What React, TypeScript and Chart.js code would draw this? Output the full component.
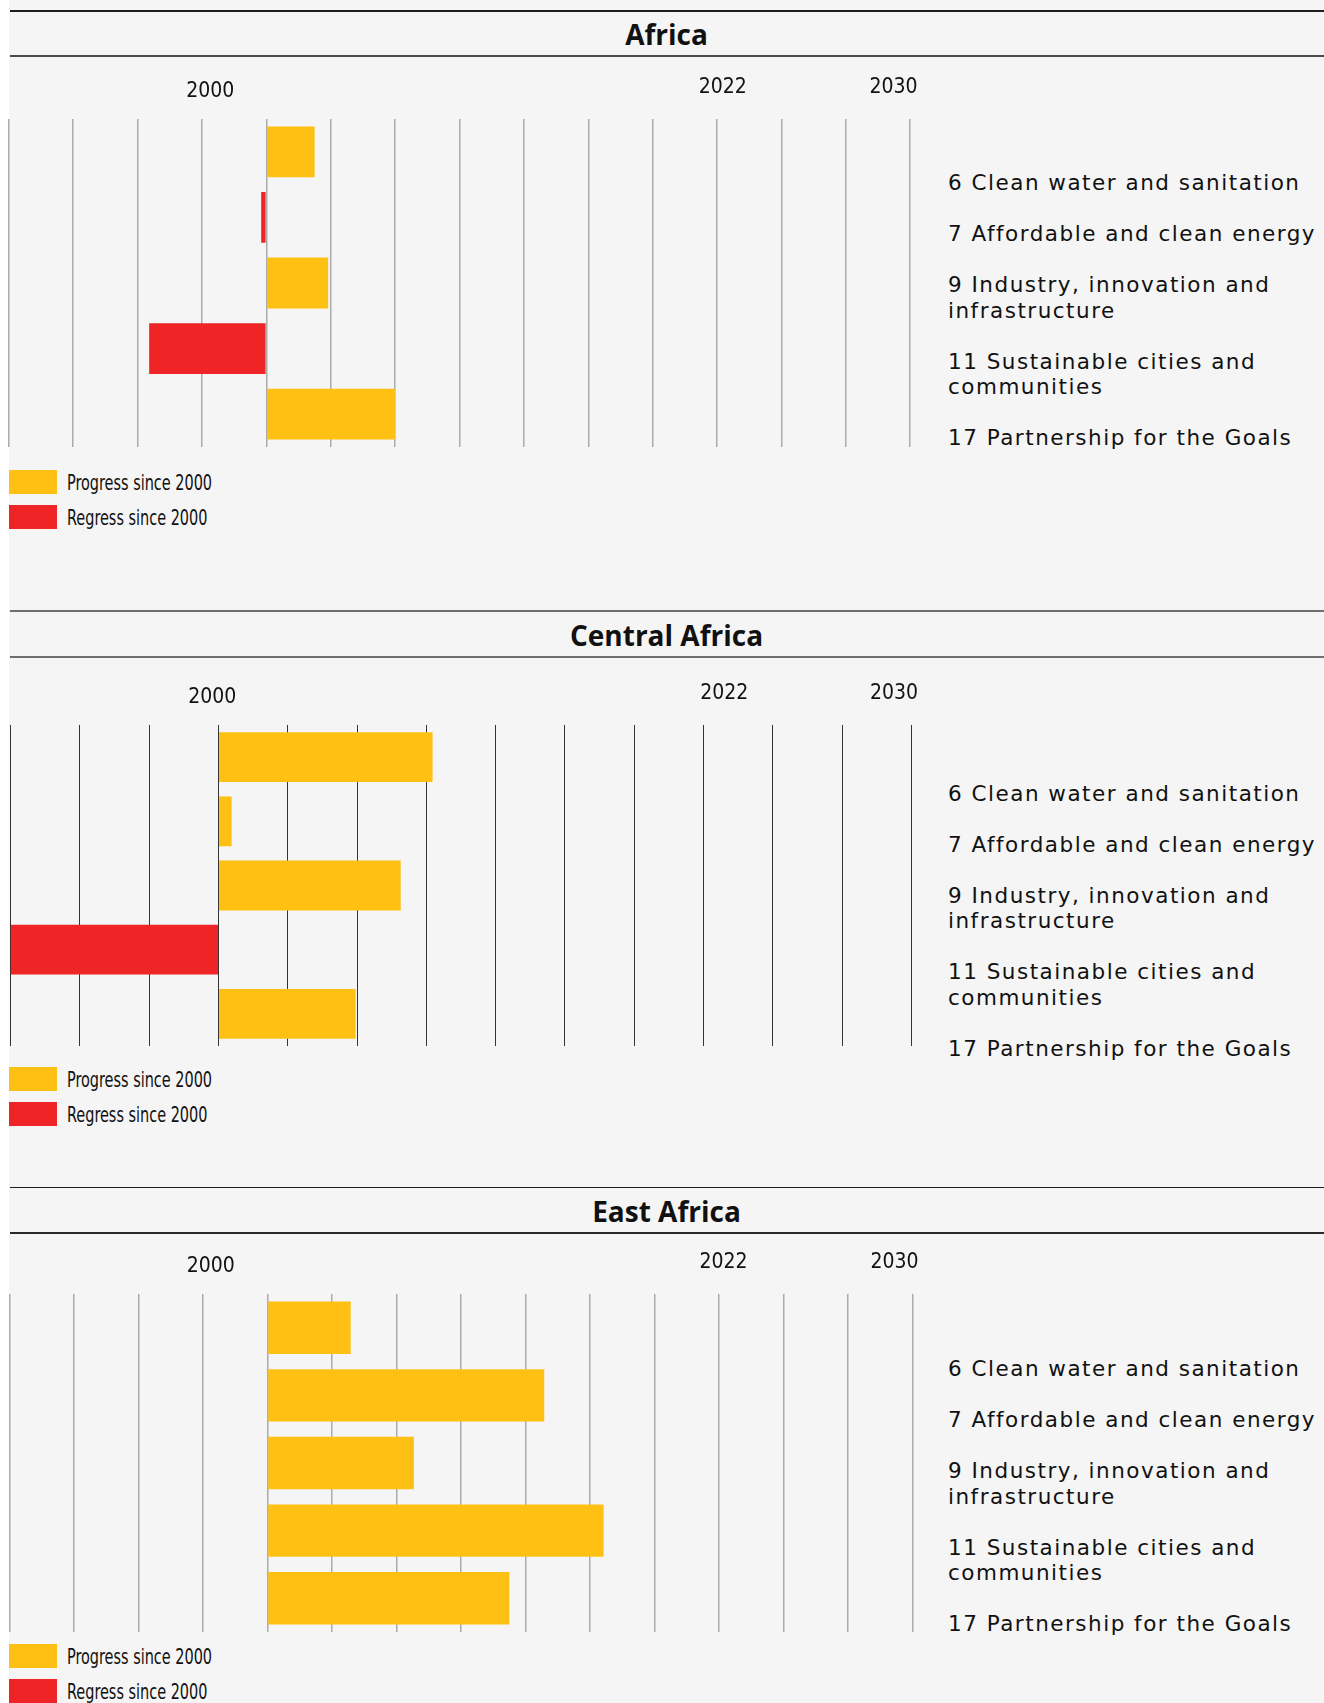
import React, { useEffect, useRef } from "react";
import { Chart, registerables } from "chart.js";

Chart.register(...registerables);

// ---------------- data ----------------
const goalLabels: (string | string[])[] = [
  "6 Clean water and sanitation",
  "7 Affordable and clean energy",
  ["9 Industry, innovation and", "infrastructure"],
  ["11 Sustainable cities and", "communities"],
  "17 Partnership for the Goals",
];

const regionTitles = ["Africa", "Central Africa", "East Africa"];

const africaValues = [0.75, -0.08, 0.96, -1.82, 2.0];
const centralAfricaValues = [3.09, 0.19, 2.63, -3.0, 1.98];
const eastAfricaValues = [1.29, 4.29, 2.27, 5.21, 3.75];

const africaAxisRange = [-4, 10];
const centralAfricaAxisRange = [-3, 10];
const eastAfricaAxisRange = [-4, 10];

const yearTickLabels = ["2000", "2022", "2030"];
const africaYearTickPositions = [-0.87, 7.09, 9.74];
const centralAfricaYearTickPositions = [-0.09, 7.3, 9.75];
const eastAfricaYearTickPositions = [-0.88, 7.07, 9.72];

const legendLabels = ["Progress since 2000", "Regress since 2000"];

// ---------------- styles ----------------
const PROGRESS = "#FDC013";
const REGRESS = "#EE2427";
const BG = "#F5F5F5";
const CONDENSED =
  "'Liberation Sans Narrow', 'DejaVu Sans Condensed', 'Roboto Condensed', Roboto, sans-serif";
const LABEL_FONT = "'DejaVu Sans', 'Open Sans', sans-serif";
const TITLE_FONT = "'Open Sans', 'Noto Sans', sans-serif";

const CANVAS_W = 920;
const TOP_PAD = 50;
const BOTTOM_PAD = 2;

const panelLayouts = [
  {
    line1: 11, titleCenter: 35, line2: 56, gridTop: 119, gridBottom: 447,
    chartLeft: 8.8, chartRight: 910.2, labelsTop: 170.4, legendTop: 470,
    gridColor: "#ababab", gridWidth: 1.5, line1Color: "#1e1e1e", line2Color: "#4a4a4a",
  },
  {
    line1: 610.8, titleCenter: 635.5, line2: 656.8, gridTop: 725.1, gridBottom: 1046.2,
    chartLeft: 10.6, chartRight: 911.4, labelsTop: 780.6, legendTop: 1067.1,
    gridColor: "#333333", gridWidth: 1, line1Color: "#6e6e6e", line2Color: "#6e6e6e",
  },
  {
    line1: 1187.3, titleCenter: 1212, line2: 1233, gridTop: 1294, gridBottom: 1632,
    chartLeft: 9.4, chartRight: 912.6, labelsTop: 1356, legendTop: 1644,
    gridColor: "#ababab", gridWidth: 1.5, line1Color: "#1e1e1e", line2Color: "#2a2a2a",
  },
];

const panelData = [
  { values: africaValues, range: africaAxisRange, ticks: africaYearTickPositions },
  { values: centralAfricaValues, range: centralAfricaAxisRange, ticks: centralAfricaYearTickPositions },
  { values: eastAfricaValues, range: eastAfricaAxisRange, ticks: eastAfricaYearTickPositions },
];

type Layout = (typeof panelLayouts)[number];

function BarPanel({
  values,
  range,
  ticks,
  layout,
}: {
  values: number[];
  range: number[];
  ticks: number[];
  layout: Layout;
}) {
  const ref = useRef<HTMLCanvasElement | null>(null);
  const height = layout.gridBottom - layout.gridTop + TOP_PAD + BOTTOM_PAD;

  useEffect(() => {
    if (!ref.current) return;
    const yearPlugin = {
      id: "yearLabels",
      afterDraw(chart: any) {
        const { ctx, chartArea, scales } = chart;
        ctx.save();
        ctx.font = `21px ${CONDENSED}`;
        ctx.fillStyle = "#111111";
        ctx.textAlign = "center";
        ctx.textBaseline = "middle";
        ticks.forEach((p, i) => {
          const dy = i === 0 ? 4 : 0;
          ctx.fillText(yearTickLabels[i], scales.x.getPixelForValue(p), chartArea.top - 31 + dy);
        });
        ctx.restore();
      },
    };
    const chart = new Chart(ref.current, {
      type: "bar",
      data: {
        labels: goalLabels.map((l) => (Array.isArray(l) ? l.join(" ") : l)),
        datasets: [
          {
            data: values,
            backgroundColor: values.map((v) => (v < 0 ? REGRESS : PROGRESS)),
            borderWidth: 0,
            barPercentage: 0.775,
            categoryPercentage: 1,
          },
        ],
      },
      options: {
        indexAxis: "y",
        responsive: false,
        maintainAspectRatio: false,
        animation: false,
        devicePixelRatio: 1,
        layout: {
          padding: {
            left: layout.chartLeft,
            right: CANVAS_W - layout.chartRight,
            top: TOP_PAD,
            bottom: BOTTOM_PAD,
          },
        },
        plugins: {
          legend: { display: false },
          tooltip: { enabled: false },
          title: { display: false },
        },
        scales: {
          x: {
            type: "linear",
            min: range[0],
            max: range[1],
            position: "bottom",
            border: { display: false },
            grid: { color: layout.gridColor, lineWidth: layout.gridWidth, drawTicks: false },
            ticks: { display: false, stepSize: 1 },
          },
          y: { type: "category", display: false },
        },
      },
      plugins: [yearPlugin],
    } as any);
    return () => chart.destroy();
  }, [values, range, ticks, layout]);

  return (
    <canvas
      ref={ref}
      width={CANVAS_W}
      height={height}
      style={{
        position: "absolute",
        left: 0,
        top: layout.gridTop - TOP_PAD,
        width: CANVAS_W,
        height,
      }}
    />
  );
}

function Panel({ index }: { index: number }) {
  const layout = panelLayouts[index];
  const d = panelData[index];
  return (
    <>
      <div
        style={{
          position: "absolute",
          left: 10,
          right: 0,
          top: layout.line1 - 0.75,
          height: 1.5,
          background: layout.line1Color,
        }}
      />
      <div
        style={{
          position: "absolute",
          left: 9,
          right: 0,
          top: layout.titleCenter - 18,
          height: 34,
          lineHeight: "34px",
          textAlign: "center",
          fontFamily: TITLE_FONT,
          fontWeight: 700,
          fontSize: 28,
          color: "#111",
        }}
      >
        {regionTitles[index]}
      </div>
      <div
        style={{
          position: "absolute",
          left: 10,
          right: 0,
          top: layout.line2 - 1,
          height: 2,
          background: layout.line2Color,
        }}
      />
      <BarPanel values={d.values} range={d.range} ticks={d.ticks} layout={layout} />
      <div
        style={{
          position: "absolute",
          left: 948,
          top: layout.labelsTop,
          fontFamily: LABEL_FONT,
          fontSize: 21.5,
          letterSpacing: "1.5px",
          lineHeight: "25.5px",
          color: "#111",
          whiteSpace: "nowrap",
        }}
      >
        {goalLabels.map((l, i) => (
          <div key={i} style={{ marginBottom: 25.5 }}>
            {(Array.isArray(l) ? l : [l]).map((line, j) => (
              <div key={j}>{line}</div>
            ))}
          </div>
        ))}
      </div>
      {legendLabels.map((lab, i) => (
        <div
          key={lab}
          style={{
            position: "absolute",
            left: 9,
            top: layout.legendTop + i * 35,
            height: 24,
            display: "flex",
            alignItems: "center",
          }}
        >
          <div style={{ width: 48, height: 24, background: i === 0 ? PROGRESS : REGRESS, flex: "none" }} />
          <div
            style={{
              marginLeft: 10,
              fontFamily: CONDENSED,
              fontSize: 22,
              color: "#111",
              whiteSpace: "nowrap",
              transform: "scaleX(0.73)",
              transformOrigin: "left center",
            }}
          >
            {lab}
          </div>
        </div>
      ))}
    </>
  );
}

export default function App() {
  return (
    <div
      style={{
        position: "absolute",
        left: 0,
        top: 0,
        width: 1324,
        height: 1703,
        overflow: "hidden",
        background: "#ffffff",
      }}
    >
      <div
        style={{
          position: "absolute",
          left: 9,
          top: 0,
          right: 0,
          bottom: 0,
          background: BG,
        }}
      />
      {regionTitles.map((_, i) => (
        <Panel key={i} index={i} />
      ))}
    </div>
  );
}
